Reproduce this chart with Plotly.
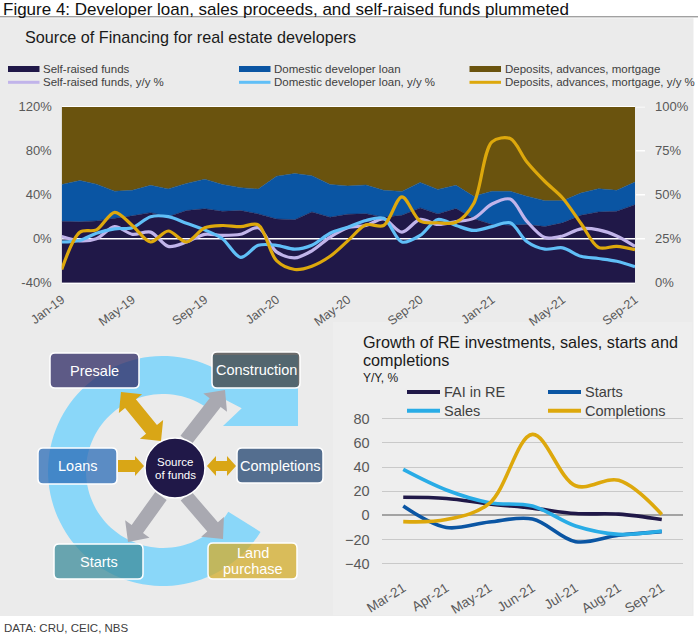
import numpy as np
import plotly.graph_objects as go

# ---------------- data ----------------
months = ["2019-01-01","2019-02-01","2019-03-01","2019-04-01","2019-05-01","2019-06-01",
          "2019-07-01","2019-08-01","2019-09-01","2019-10-01","2019-11-01","2019-12-01",
          "2020-01-01","2020-02-01","2020-03-01","2020-04-01","2020-05-01","2020-06-01",
          "2020-07-01","2020-08-01","2020-09-01","2020-10-01","2020-11-01","2020-12-01",
          "2021-01-01","2021-02-01","2021-03-01","2021-04-01","2021-05-01","2021-06-01",
          "2021-07-01","2021-08-01","2021-09-01"]

# shares of financing (right axis, %)
self_share = [34.9,34.6,35.1,36.5,38.0,39.8,37.5,41.0,42.0,40.6,41.0,39.1,36.2,35.8,40.2,37.2,
              38.9,39.2,37.2,38.3,42.5,39.1,42.1,36.4,33.0,32.6,33.0,31.9,34.0,38.3,40.2,40.6,44.3]
loan_share = [20.9,23.4,20.9,15.5,14.5,15.5,15.8,15.4,16.8,15.2,13.0,14.1,24.3,26.2,20.6,18.6,
              16.1,16.3,15.3,13.5,14.5,13.9,13.2,12.7,18.9,19.3,16.1,14.7,12.6,12.6,13.2,11.9,12.9]
dep_share  = [44.2,42.0,44.0,48.0,47.5,44.7,46.7,43.6,41.2,44.2,46.0,46.8,39.5,38.0,39.2,44.2,
              45.0,44.5,47.5,48.2,43.0,47.0,44.7,50.9,48.1,48.1,50.9,53.4,53.4,49.1,46.6,47.5,42.8]

# y/y growth (left axis, %)
self_yoy = [2,-2,0,11,4,6,-7,-3,4,3,4,10,-12,-17.5,-11,1.5,10,12,18,6,17.5,13,15.5,18.5,
            31.5,36,16,1,2.5,9,8,2.5,-7]
loan_yoy = [-3,-1.5,5,9,10,20,20,14,8,0,-17,-6,-6,-9.5,-6,5,10.5,16.5,18.5,-3,3,17.5,12,7.5,
            11,14.5,-2.5,-9.5,-8.3,-16,-18,-20.5,-25.5]
dep_yoy  = [-28,6,8,24,12,-3,7,-3,10,12,11,12.6,-20,-28,-25,-16,-2,12.6,12,38,16,14.5,15,32,
            88,91,70,52,37,14,-8,-7,-10]

share_names = ["Self-raised funds", "Domestic developer loan", "Deposits, advances, mortgage"]
yoy_names = ["Self-raised funds, y/y %", "Domestic developer loan, y/y %",
             "Deposits, advances, mortgage, y/y %"]

left_ticks = [-40, 0, 40, 80, 120]
left_labels = ["-40%", "0%", "40%", "80%", "120%"]
right_ticks = [0, 25, 50, 75, 100]
right_labels = ["0%", "25%", "50%", "75%", "100%"]

# second chart
cats2 = ["Mar-21","Apr-21","May-21","Jun-21","Jul-21","Aug-21","Sep-21"]
fai_re      = [15, 14, 9.5, 6, 1.5, 1, -3.5]
starts      = [7.7, -10, -5.5, -3, -21.8, -16.5, -13.5]
sales       = [38, 21, 10.5, 7.7, -8.8, -15.7, -13]
completions = [-5.2, -3.5, 10, 67, 24.5, 29, 0.8]
names2 = ["FAI in RE", "Starts", "Sales", "Completions"]
ticks2 = [-40, -20, 0, 20, 40, 60, 80]

# ---------------- style ----------------
W, H = 698, 635
FONT = "Liberation Sans, Arial, Helvetica, sans-serif"
C_NAVY = "#201848"
C_BLUE = "#0A55A3"
C_BROWN = "#6A530E"
C_LAV = "#C1B4EA"
C_LBLUE = "#60BFF7"
C_GOLD = "#DDA80C"
C_CYAN = "#29ACE6"
C_TICK = "#595959"
C_TXT = "#404040"
BG = "#EBEBEB"


def X(p):
    return p / W


def Y(p):
    return 1 - p / H


def poly(points):
    return "M " + " L ".join(f"{X(a):.5f},{Y(b):.5f}" for a, b in points) + " Z"


def rrect(x0, y0, x1, y1, r):
    P = lambda a, b: f"{X(a):.5f},{Y(b):.5f}"
    return (f"M {P(x0+r,y0)} L {P(x1-r,y0)} Q {P(x1,y0)} {P(x1,y0+r)} "
            f"L {P(x1,y1-r)} Q {P(x1,y1)} {P(x1-r,y1)} L {P(x0+r,y1)} "
            f"Q {P(x0,y1)} {P(x0,y1-r)} L {P(x0,y0+r)} Q {P(x0,y0)} {P(x0+r,y0)} Z")


def block_arrow(p0, p1, shaft, head, hlen, double=False):
    p0 = np.array(p0, float); p1 = np.array(p1, float)
    d = p1 - p0; u = d / np.linalg.norm(d); n = np.array([-u[1], u[0]])
    b = p1 - u * hlen
    if double:
        a = p0 + u * hlen
        pts = [p0, a + n*head, a + n*shaft, b + n*shaft, b + n*head, p1,
               b - n*head, b - n*shaft, a - n*shaft, a - n*head]
    else:
        pts = [p0 + n*shaft, b + n*shaft, b + n*head, p1, b - n*head, b - n*shaft, p0 - n*shaft]
    return poly([tuple(p) for p in pts])


def note(text, x, y, size, color, anchor="left"):
    return dict(text=text, x=X(x), y=Y(y), xref="paper", yref="paper", xanchor=anchor,
                yanchor="middle", showarrow=False, font=dict(size=size, color=color))


fig = go.Figure()

# ---------------- top chart ----------------
for vals, name, col in zip([self_share, loan_share, dep_share], share_names, [C_NAVY, C_BLUE, C_BROWN]):
    fig.add_trace(go.Scatter(x=months, y=vals, name=name, stackgroup="share", mode="lines",
                             line=dict(width=0.5, color=col), fillcolor=col,
                             xaxis="x", yaxis="y", showlegend=False, hoverinfo="skip"))

fig.add_trace(go.Scatter(x=[months[0], months[-1]], y=[0, 0], mode="lines",
                         line=dict(color="white", width=1.5), xaxis="x", yaxis="y2",
                         showlegend=False, hoverinfo="skip"))

for vals, name, col in zip([self_yoy, loan_yoy, dep_yoy], yoy_names, [C_LAV, C_LBLUE, C_GOLD]):
    fig.add_trace(go.Scatter(x=months, y=vals, name=name, mode="lines",
                             line=dict(color=col, width=3.2, shape="spline", smoothing=0.9),
                             xaxis="x", yaxis="y2", showlegend=False))

# ---------------- bottom right chart ----------------
for vals, name, col in zip([fai_re, starts, sales, completions], names2,
                           [C_NAVY, C_BLUE, C_CYAN, C_GOLD]):
    fig.add_trace(go.Scatter(x=cats2, y=vals, name=name, mode="lines",
                             line=dict(color=col, width=3.6, shape="spline", smoothing=1.0),
                             xaxis="x3", yaxis="y3", showlegend=False))

shapes = []
annos = []

# backgrounds
shapes.append(dict(type="rect", xref="paper", yref="paper", x0=X(0), x1=X(693.5), y0=Y(616), y1=Y(18.3),
                   fillcolor=BG, line=dict(width=0), layer="below"))
shapes.append(dict(type="rect", xref="paper", yref="paper", x0=X(333), x1=X(692.5), y0=Y(615.5), y1=Y(322),
                   fillcolor="#EEEEEE", line=dict(width=0), layer="below"))
shapes.append(dict(type="line", xref="paper", yref="paper", x0=0, x1=1, y0=Y(16.8), y1=Y(16.8),
                   line=dict(color="#7A7A7A", width=1), layer="below"))

# right-axis tick marks (white)
for v in right_ticks[1:]:
    shapes.append(dict(type="line", xref="paper", yref="y", x0=X(636), x1=X(645), y0=v, y1=v,
                       line=dict(color="white", width=1.5)))

# titles
annos.append(note("Figure 4: Developer loan, sales proceeds, and self-raised funds plummeted",
                  1, 9.3, 17, "#111111"))
annos.append(note("Source of Financing for real estate developers", 23, 37, 16.2, "#1a1a1a"))
annos.append(note("DATA: CRU, CEIC, NBS", 2, 628, 11.5, C_TXT))

# top legend (manual)
cols_x = [8, 239, 469.5]
for i, (name, col) in enumerate(zip(share_names, [C_NAVY, C_BLUE, C_BROWN])):
    x0 = cols_x[i]
    shapes.append(dict(type="rect", xref="paper", yref="paper", x0=X(x0), x1=X(x0+31.5),
                       y0=Y(72), y1=Y(66), fillcolor=col, line=dict(width=0)))
    annos.append(note(name, x0 + 33, 69, 11.5, C_TXT))
for i, (name, col) in enumerate(zip(yoy_names, [C_LAV, C_LBLUE, C_GOLD])):
    x0 = cols_x[i]
    shapes.append(dict(type="line", xref="paper", yref="paper", x0=X(x0), x1=X(x0+31.5),
                       y0=Y(82.3), y1=Y(82.3), line=dict(color=col, width=3)))
    annos.append(note(name, x0 + 33, 82.3, 11.5, C_TXT))

# bottom right titles and legend
annos.append(note("Growth of RE investments, sales, starts and", 360.5, 342, 16.2, "#1a1a1a"))
annos.append(note("completions", 360.5, 360, 16.2, "#1a1a1a"))
annos.append(note("Y/Y, %", 361, 378, 12, "#1a1a1a"))
leg2_pos = [(407, 392), (548, 392), (407, 410.7), (548, 410.7)]
for (lx, ly), name, col in zip(leg2_pos, names2, [C_NAVY, C_BLUE, C_CYAN, C_GOLD]):
    shapes.append(dict(type="line", xref="paper", yref="paper", x0=X(lx), x1=X(lx+33),
                       y0=Y(ly), y1=Y(ly), line=dict(color=col, width=4)))
    annos.append(note(name, lx + 35, ly, 14.5, C_TXT))

# ---------------- diagram (bottom left) ----------------
cx, cy, Ro, Ri = 163, 471, 115, 77
th_o = np.radians(np.linspace(64, 328, 90))
th_i = np.radians(np.linspace(328, 57.5, 90))
ring = [(cx + Ro*np.cos(t), cy - Ro*np.sin(t)) for t in th_o]
ring += [(cx + Ri*np.cos(t), cy - Ri*np.sin(t)) for t in th_i]
ring += [(222, 398), (241.7, 408.3), (223, 426), (298, 426), (298, 355), (213, 355)]
shapes.append(dict(type="path", xref="paper", yref="paper", path=poly(ring),
                   fillcolor="#8AD7F9", line=dict(width=0)))

C_ARG = "#D9A616"
C_ARW = "#A9A9B1"
arrows = [
    ((186, 440), (225, 390), C_ARW, 7, 15, 16, False),
    ((161, 496), (128, 542), C_ARW, 7, 15, 16, False),
    ((186, 496), (223, 539), C_ARW, 7, 15, 16, False),
    ((121, 392), (161, 441), C_ARG, 7, 15, 15, True),
    ((118, 466), (144, 466), C_ARG, 6, 10, 9, False),
    ((207, 466), (236, 466), C_ARG, 5, 10, 9, True),
]
for p0, p1, col, s, hw, hl, dbl in arrows:
    shapes.append(dict(type="path", xref="paper", yref="paper",
                       path=block_arrow(p0, p1, s, hw, hl, dbl), fillcolor=col, line=dict(width=0)))

boxes = [
    (50, 353, 139, 388, "#2E2A64", ["Presale"]),
    (212, 352, 300, 388, "#404040", ["Construction"]),
    (38, 448, 117, 484, "#2B6CB7", ["Loans"]),
    (237, 448, 323, 483, "#224470", ["Completions"]),
    (54, 544, 143, 579, "#3C8C9B", ["Starts"]),
    (208, 543, 297, 579, "#D3AC2A", ["Land", "purchase"]),
]
for x0, y0, x1, y1, col, lines in boxes:
    shapes.append(dict(type="path", xref="paper", yref="paper", path=rrect(x0, y0, x1, y1, 5),
                       fillcolor=col, opacity=0.75, line=dict(width=0)))
    shapes.append(dict(type="path", xref="paper", yref="paper", path=rrect(x0, y0, x1, y1, 5),
                       fillcolor="rgba(0,0,0,0)", line=dict(color="white", width=1.5)))
    mid = (y0 + y1) / 2
    offs = [0] if len(lines) == 1 else [-8, 8]
    for t, o in zip(lines, offs):
        annos.append(note(t, (x0 + x1) / 2, mid + o, 14.5, "white", anchor="center"))

shapes.append(dict(type="circle", xref="paper", yref="paper", x0=X(145), x1=X(205),
                   y0=Y(498), y1=Y(438), fillcolor=C_NAVY, line=dict(color="white", width=1.5)))
annos.append(note("Source", 175, 462, 11.5, "white", anchor="center"))
annos.append(note("of funds", 175, 475, 11.5, "white", anchor="center"))

fig.update_layout(
    width=W, height=H, margin=dict(l=0, r=0, t=0, b=0, autoexpand=False),
    paper_bgcolor="white", plot_bgcolor="rgba(0,0,0,0)",
    font=dict(family=FONT, color=C_TICK),
    showlegend=False,
    xaxis=dict(domain=[X(61.7), X(635)], anchor="y", type="date", range=[months[0], months[-1]],
               tickformat="%b-%y", dtick="M4", tick0=months[0], tickangle=-37,
               tickfont=dict(size=12.5, color=C_TICK), showgrid=False, zeroline=False,
               showline=True, linecolor="white", linewidth=1, mirror=True,
               ticks="", ticklabelstandoff=4, automargin=False),
    yaxis=dict(domain=[Y(282.7), Y(106.7)], anchor="x", side="right", range=[0, 100],
               tickmode="array", tickvals=right_ticks, ticktext=right_labels,
               ticks="", showgrid=False, zeroline=False, automargin=False,
               tickfont=dict(size=13, color=C_TICK), ticklabelstandoff=19),
    yaxis2=dict(overlaying="y", anchor="x", side="left", range=[-40, 120],
                tickmode="array", tickvals=left_ticks, ticktext=left_labels, ticks="",
                showgrid=False, zeroline=False, automargin=False,
                tickfont=dict(size=13, color=C_TICK), ticklabelstandoff=9),
    xaxis3=dict(domain=[X(381.7), X(683.3)], anchor="y3", type="category", range=[-0.5, 6.5],
                tickangle=-32, tickfont=dict(size=13.5, color=C_TICK), showgrid=False,
                zeroline=False, ticks="", ticklabelstandoff=12, automargin=False),
    yaxis3=dict(domain=[Y(564.9), Y(417.5)], anchor="x3", range=[-41, 81],
                tickmode="array", tickvals=ticks2, showgrid=True, gridcolor="#C9C9C9",
                gridwidth=1, zeroline=True, zerolinecolor="#A3A3A3", zerolinewidth=1.5,
                tickfont=dict(size=14.5, color=C_TICK), ticks="", ticklabelstandoff=11,
                automargin=False),
    shapes=shapes, annotations=annos,
)

fig.write_html("out.html", config={"displayModeBar": False},
               post_script="document.body.style.margin='0';")
